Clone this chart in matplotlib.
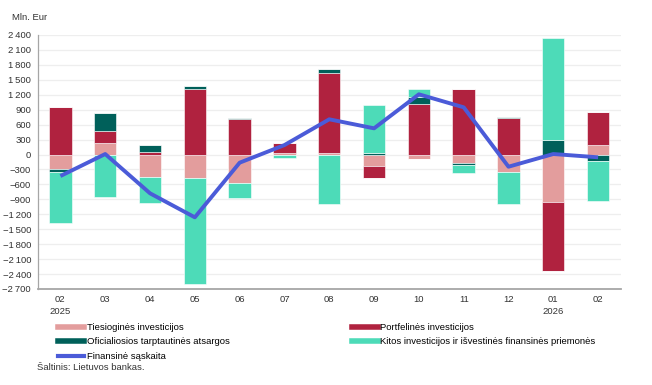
import matplotlib
matplotlib.use('Agg')
import matplotlib.pyplot as plt
from matplotlib.lines import Line2D
import numpy as np

plt.rcParams['font.family'] = ['Liberation Sans', 'DejaVu Sans']

months = ['02\n2025', '03', '04', '05', '06', '07', '08', '09', '10', '11', '12', '01\n2026', '02']

# mln. Eur
direct = [-300, 225, -458, -466, -579, 30, 40, -231, -97, -177, -358, -960, 191]
portfolio = [960, 247, 55, 1309, 713, 200, 1590, -247, 1014, 1321, 739, -1379, 663]
reserves = [-50, 368, 135, 66, 27, 10, 80, 40, 147, -40, 20, 291, -124]
other = [-1030, -847, -522, -2140, -301, -75, -1000, 950, 147, -161, -636, 2054, -803]
financial = [-432, 10, -779, -1261, -164, 190, 707, 526, 1209, 948, -245, 10, -56]

series = [
    ('Tiesioginės investicijos', direct, '#e39d9d'),
    ('Portfelinės investicijos', portfolio, '#b0223f'),
    ('Oficialiosios tarptautinės atsargos', reserves, '#00605a'),
    ('Kitos investicijos ir išvestinės finansinės priemonės', other, '#4ddbb8'),
]
line_color = '#4b5bd8'

fig = plt.figure(figsize=(6.52, 3.85), dpi=100)
ax = fig.add_axes([0.0583, 0.2494, 0.8934, 0.6597])

x = np.arange(len(months))
pos_base = np.zeros(len(months))
neg_base = np.zeros(len(months))
for name, vals, col in series:
    v = np.array(vals, dtype=float)
    pos = np.where(v > 0, v, 0)
    neg = np.where(v < 0, v, 0)
    ax.bar(x, pos, 0.5, bottom=pos_base, color=col, edgecolor='white', linewidth=0.4, zorder=2)
    ax.bar(x, neg, 0.5, bottom=neg_base, color=col, edgecolor='white', linewidth=0.4, zorder=2)
    pos_base += pos
    neg_base += neg

ax.plot(x, financial, color=line_color, linewidth=2.8, zorder=3, solid_capstyle='butt')

ax.set_xlim(-0.5, 12.5)
ax.set_ylim(-2700, 2400)
yt = np.arange(-2700, 2401, 300)
ax.set_yticks(yt)
ax.set_yticklabels([('−' if t < 0 else '') + f'{abs(t):,}'.replace(',', '\u2009') for t in yt],
                   fontsize=6.8, color='#333333')
ax.set_xticks(x)
ax.set_xticklabels(months, fontsize=6.8, color='#333333', linespacing=1.55)
ax.tick_params(axis='both', length=0, pad=4)
ax.tick_params(axis='y', pad=5)
ax.grid(axis='y', color='#eeeeee', linewidth=0.9, zorder=0)
ax.set_axisbelow(True)
for s in ['top', 'right']:
    ax.spines[s].set_visible(False)
ax.spines['left'].set_color('#a6a6a6')
ax.spines['left'].set_linewidth(0.9)
ax.spines['bottom'].set_color('#a6a6a6')
ax.spines['bottom'].set_linewidth(1.3)

fig.text(12 / 652, 1 - 18 / 385, 'Mln. Eur', fontsize=6.8, color='#333333', va='center')

handles = [
    Line2D([], [], color=series[0][2], linewidth=4),
    Line2D([], [], color=series[2][2], linewidth=4),
    Line2D([], [], color=line_color, linewidth=3),
    Line2D([], [], color=series[1][2], linewidth=4),
    Line2D([], [], color=series[3][2], linewidth=4),
]
labels = [series[0][0], series[2][0], 'Finansinė sąskaita', series[1][0], series[3][0]]
fig.legend(handles, labels, loc='upper left', bbox_to_anchor=(58 / 652, 1 - 323 / 385),
           ncol=2, frameon=False, fontsize=6.8, handlelength=2.8, handletextpad=0.25,
           columnspacing=12.9, labelspacing=0.58, borderaxespad=0, borderpad=0)

fig.text(37 / 652, 1 - 367 / 385, 'Šaltinis: Lietuvos bankas.', fontsize=6.8, color='#333333', va='center')

fig.savefig('out.png', dpi=100)
